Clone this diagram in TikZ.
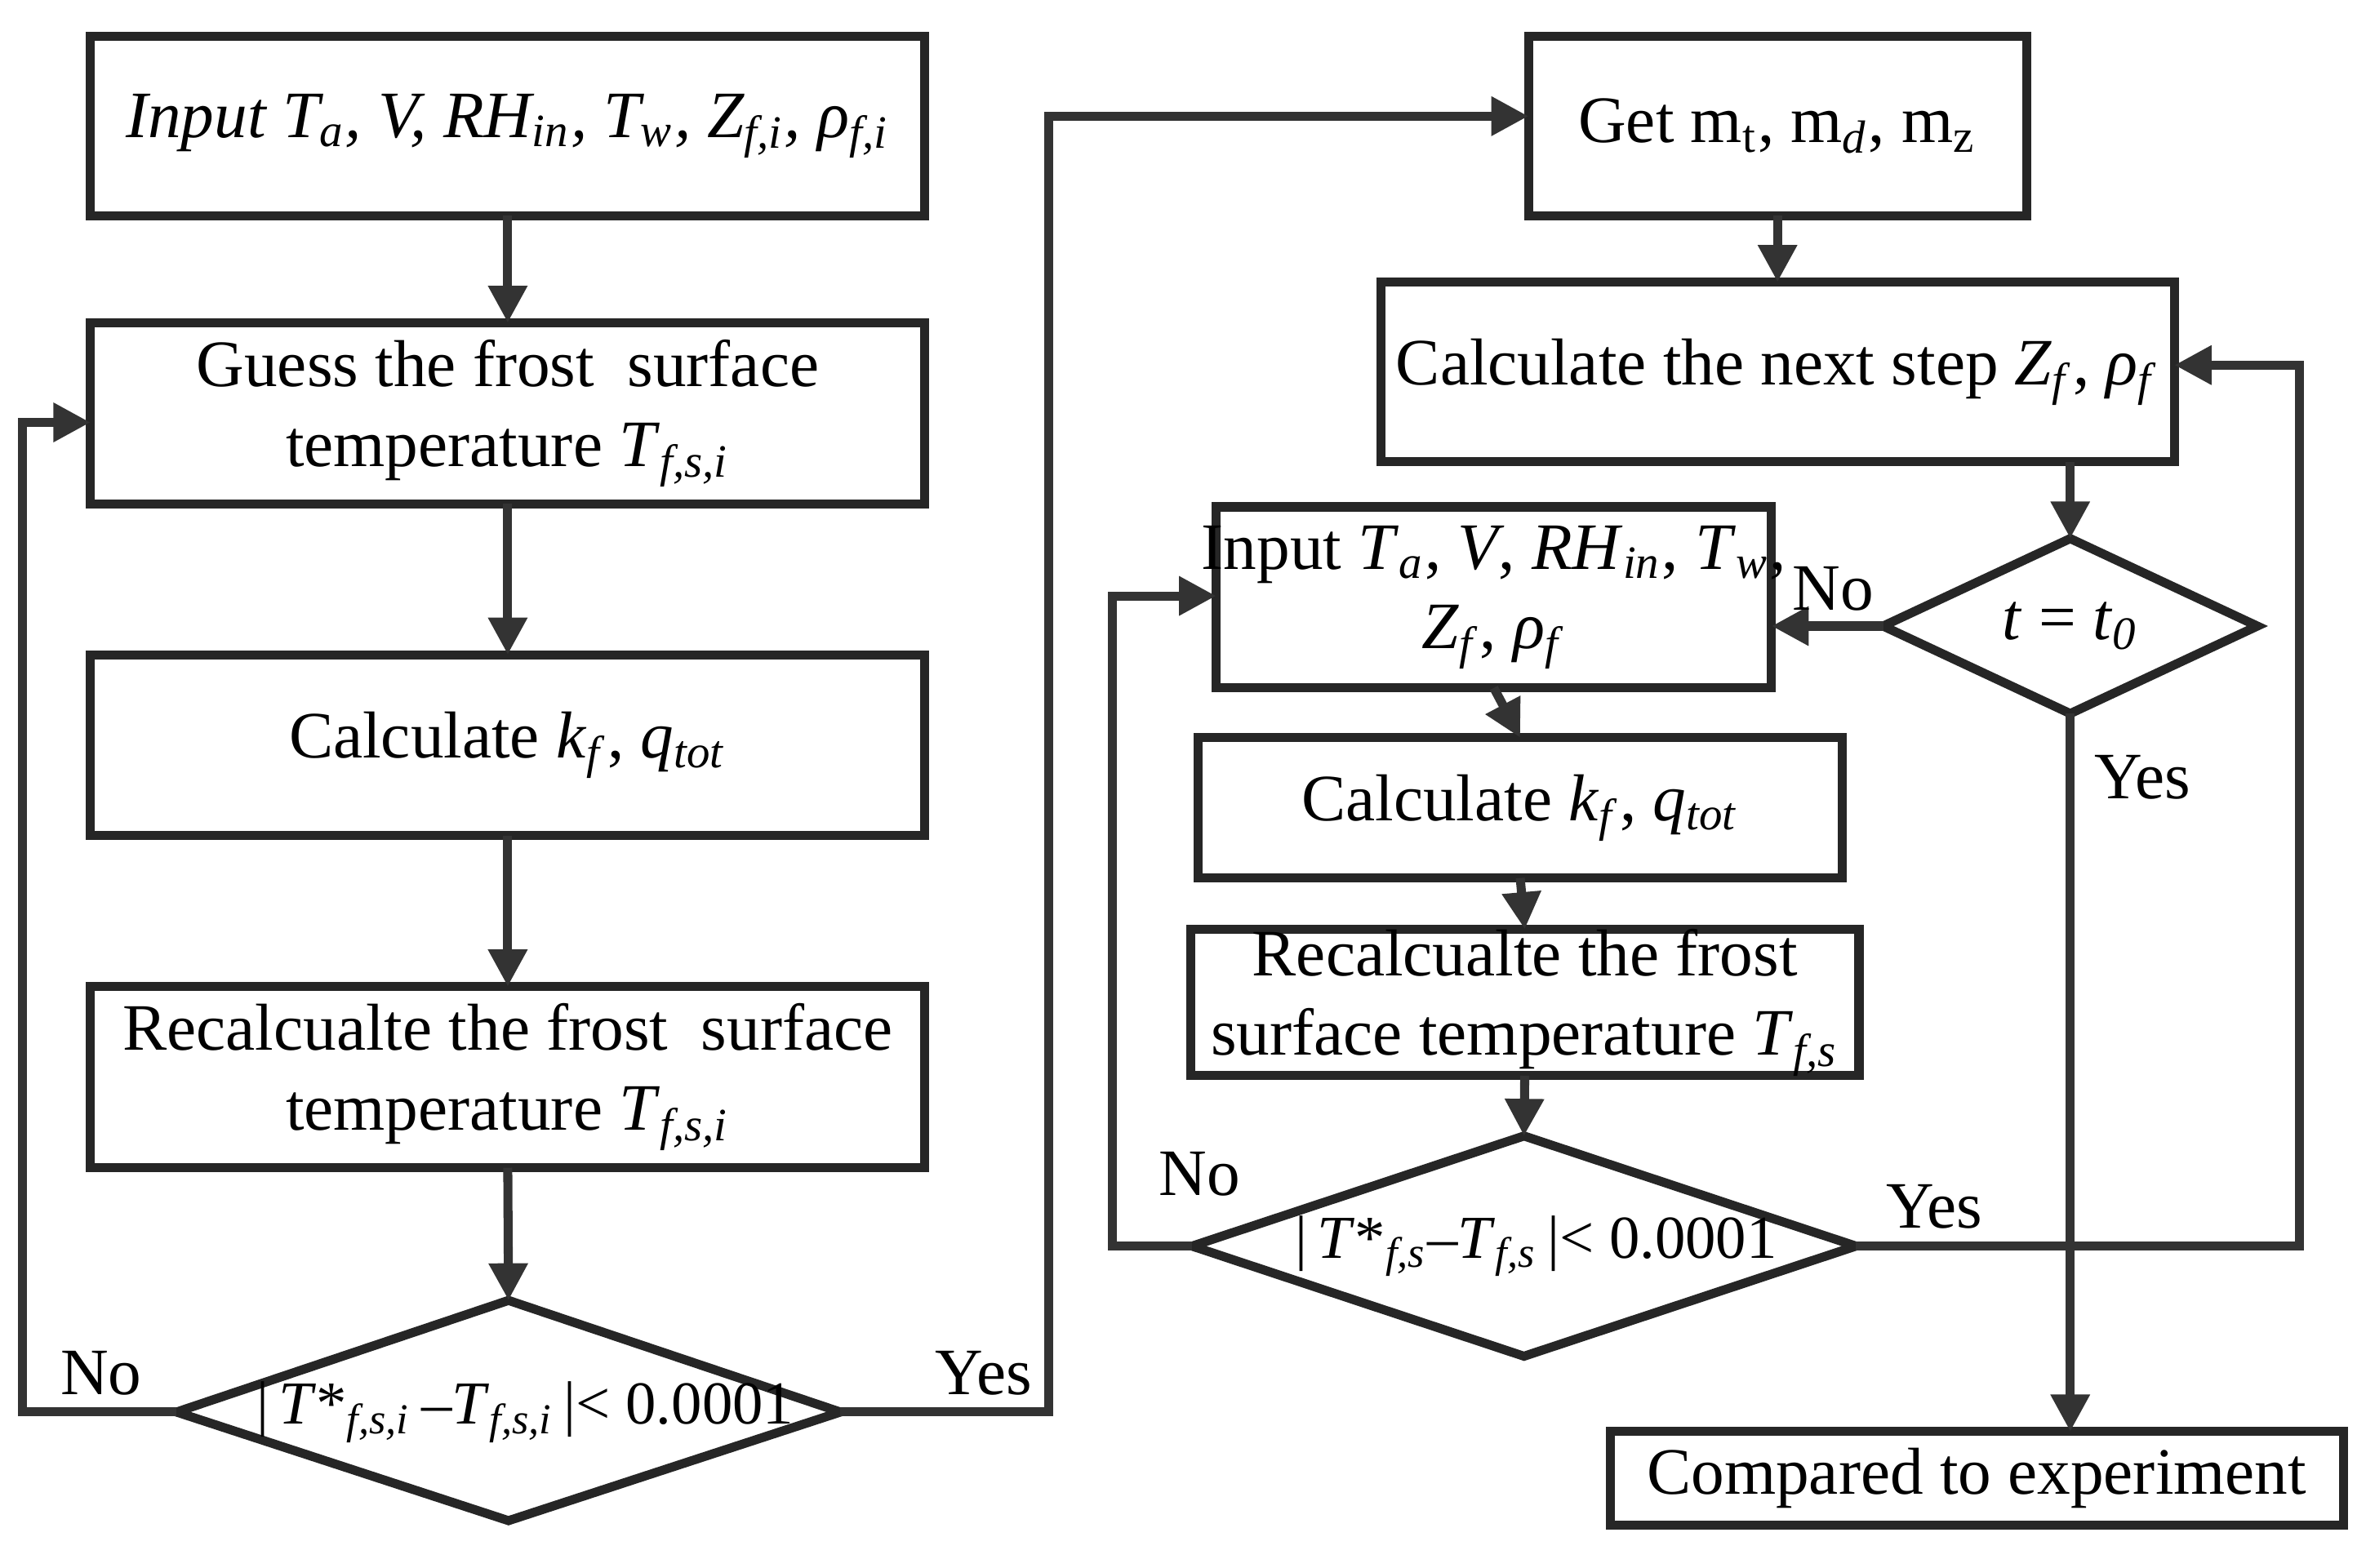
\documentclass[tikz,border=0pt]{standalone}
\usepackage{fontspec}
\setmainfont{Liberation Serif}
\usetikzlibrary{arrows.meta}
\newcommand{\sbs}[1]{\textsubscript{\textit{#1}}}
\newcommand{\iv}[1]{\textit{#1}}
\begin{document}
\begin{tikzpicture}[x=0.01cm,y=-0.01cm,
  every node/.style={font=\fontsize{12.5}{15}\selectfont},
  bx/.style={draw=black!85,line width=1.7pt,inner sep=0pt},
  ln/.style={draw=black!80,line width=1.7pt},
  ar/.style={ln,-{Triangle[length=7pt,width=7pt]}},
  lb/.style={inner sep=0pt,font=\fontsize{12.5}{15}\selectfont}]
\useasboundingbox (0,0) rectangle (1568,1039);
\newcommand{\bx}[6]{\draw[bx] (#2,#3) rectangle (#4,#5); \node[align=center] (#1) at ({(#2+#4)/2},{(#3+#5)/2}) {#6};
 \coordinate (#1n) at ({(#2+#4)/2},#3); \coordinate (#1s) at ({(#2+#4)/2},#5);}
\bx{b1}{60}{24}{613}{143}{\itshape Input T\sbs{a}, V, RH\sbs{in}, T\sbs{w}, Z\sbs{f,i}, ρ\sbs{f,i}}
\bx{b2}{60}{214}{613}{334}{Guess the frost \ surface\\temperature \iv{T}\sbs{f,s,i}}
\bx{b3}{60}{434}{613}{554}{Calculate \iv{k}\sbs{f}, \iv{q}\sbs{tot}}
\bx{b4}{60}{654}{613}{774}{Recalcualte the frost \ surface\\temperature \iv{T}\sbs{f,s,i}}
\bx{b5}{1013}{24}{1343}{143}{Get m\textsubscript{t}, m\sbs{d}, m\textsubscript{z}}
\bx{b6}{915}{187}{1441}{306}{Calculate the next step \iv{Z}\sbs{f}, \iv{ρ}\sbs{f}}
\bx{b7}{806}{336}{1174}{456}{Input \iv{T}\sbs{a}, \iv{V}, \iv{RH}\sbs{in}, \iv{T}\sbs{w},\\\iv{Z}\sbs{f}, \iv{ρ}\sbs{f}}
\bx{b8}{794}{489}{1221}{582}{Calculate \iv{k}\sbs{f}, \iv{q}\sbs{tot}}
\bx{b9}{789}{616}{1232}{713}{Recalcualte the frost\\surface temperature \iv{T}\sbs{f,s}}
\bx{b10}{1067}{949}{1553}{1011}{Compared to experiment}
% diamonds
\draw[bx] (117,936)--(337,862)--(557,936)--(337,1008)--cycle;
\node[font=\fontsize{11.5}{14}\selectfont] (d1) at (348,936) {|\,\iv{T}*\sbs{f,s,i}\,–\iv{T}\sbs{f,s,i}\,|< 0.0001};
\coordinate (d1n) at (337,862);
\draw[bx] (1248,415)--(1372,357)--(1496,415)--(1372,473)--cycle;
\node (d2) at (1372,415) {\iv{t} = \iv{t}\sbs{0}};
\coordinate (d2n) at (1372,357);
\draw[bx] (790,826)--(1010,753)--(1230,826)--(1010,899)--cycle;
\node[font=\fontsize{11.5}{14}\selectfont] (d3) at (1018,826) {|\,\iv{T}*\sbs{f,s}–\iv{T}\sbs{f,s}\,|< 0.0001};
\coordinate (d3n) at (1010,753);
% arrows
\draw[ar] (b1s)--(b2n); \draw[ar] (b2s)--(b3n); \draw[ar] (b3s)--(b4n); \draw[ar] (b4s)--(d1n);
\draw[ar] (117,936)--(15,936)--(15,280)--(60,280);
\draw[ar] (557,936)--(695,936)--(695,77)--(1013,77);
\draw[ar] (b5s)--(b5s|-b6n); \draw[ar] (1372,306)--(d2n);
\draw[ar] (1248,415)--(1174,415);
\draw[ar] (1372,473)--(1372,949);
\draw[ar] (b7s)--(b8n); \draw[ar] (b8s)--(b9n); \draw[ar] (b9s)--(d3n);
\draw[ar] (790,826)--(737,826)--(737,395)--(806,395);
\draw[ar] (1230,826)--(1524,826)--(1524,242)--(1441,242);
\node[lb] at (67,910) {No}; \node[lb] at (652,910) {Yes};
\node[lb] at (1215,390) {No}; \node[lb] at (1420,515) {Yes};
\node[lb] at (795,778) {No}; \node[lb] at (1282,800) {Yes};
\end{tikzpicture}
\end{document}
